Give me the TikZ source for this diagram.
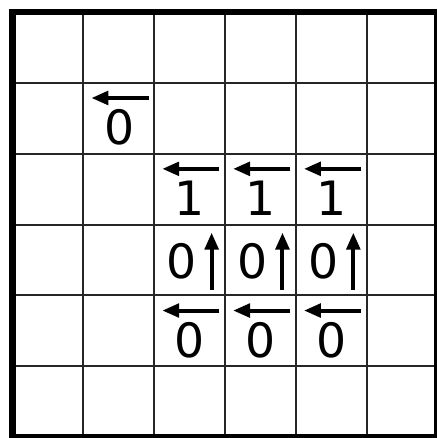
\documentclass[tikz,border=0pt]{standalone}
\usepackage{fontspec}
\setmainfont{DejaVu Sans}
\usetikzlibrary{arrows.meta}

\begin{document}
\begin{tikzpicture}[
		gridline/.style={black!85, line width=0.8pt},
		frameline/.style={black, line width=2.6pt},
		dirarrow/.style={-{Triangle[length=6.8pt,width=5.4pt]}, black, line width=1.6pt},
		digit/.style={font=\fontsize{19}{19}\selectfont, inner sep=0pt}
	]
	\useasboundingbox (-0.177, -0.012) rectangle (5.978, 6.17);
	
	% grid
	\foreach \k in {1,...,5} {
		\draw[gridline] (\k, 0) -- (\k, 6);
		\draw[gridline] (0, \k) -- (6, \k);
	}
	\draw[frameline] (0, 0) rectangle (6, 6);
	
	% cell in row 1
	\draw[dirarrow] (1.92, 4.787) -- (1.113, 4.787);
	\node[digit] (z11) at (1.505, 4.37) {0};
	
	% rows 2 to 4, columns 2 to 4
	\foreach \c in {2,3,4} {
		\draw[dirarrow] (\c+0.92, 3.787) -- (\c+0.113, 3.787);
		\node[digit] (a\c) at (\c+0.505, 3.37) {1};
		
		\node[digit] (b\c) at (\c+0.39, 2.48) {0};
		\draw[dirarrow] (\c+0.81, 2.08) -- (\c+0.81, 2.887);
		
		\draw[dirarrow] (\c+0.92, 1.787) -- (\c+0.113, 1.787);
		\node[digit] (d\c) at (\c+0.505, 1.37) {0};
	}
\end{tikzpicture}
\end{document}
